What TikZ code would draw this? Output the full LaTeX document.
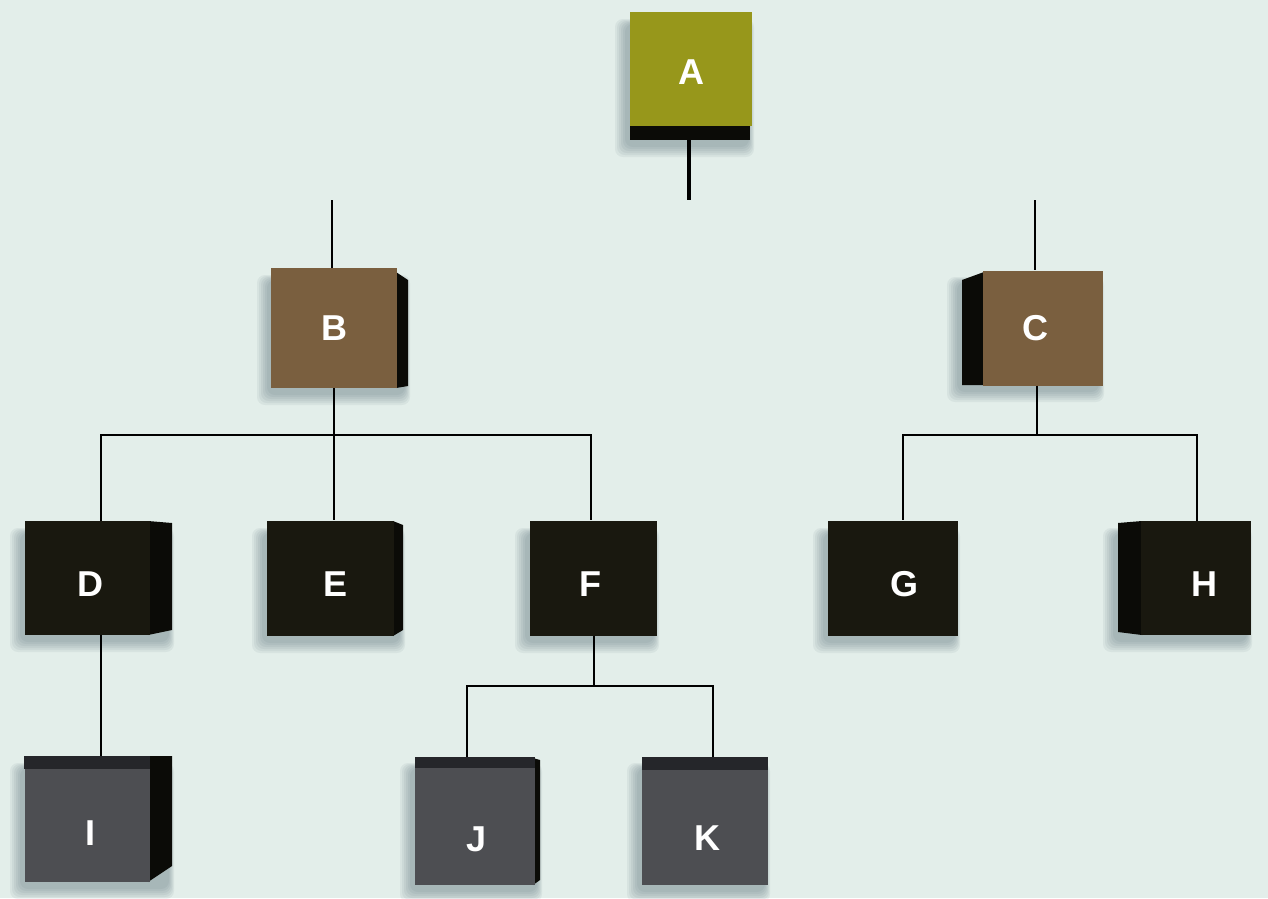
\documentclass[tikz,border=0pt]{standalone}
\usepackage{fontspec}
\setmainfont{Liberation Sans}
\definecolor{bgc}{HTML}{E3EEEA}
\definecolor{olivec}{HTML}{97971B}
\definecolor{brownc}{HTML}{7A5F3F}
\definecolor{blackc}{HTML}{19180F}
\definecolor{greyc}{HTML}{4D4E52}
\definecolor{sidec}{HTML}{0B0B07}
\definecolor{gtopc}{HTML}{25262A}
\definecolor{shadc}{HTML}{4F6570}
\newcommand\softshadow[4]{%
  \foreach \k in {0,...,5}{%
    \fill[shadc, opacity=0.08, rounded corners=8]
      ({#1-5-\k*2},{#2+12-\k}) rectangle ({#3-3+\k},{#4+7+\k*2});}}
\begin{document}
\begin{tikzpicture}[x=1pt,y=-1pt,
  face/.style={rectangle, inner sep=0pt, text=white,
    font=\fontsize{36}{40}\selectfont\bfseries},
  lbl/.style={text=white, inner sep=0pt,
    font=\fontsize{36}{40}\selectfont\bfseries},
  wire/.style={draw=black, line width=2.3pt},
  thick wire/.style={draw=black, line width=4pt}]
\fill[bgc] (0,0) rectangle (1268,898);
\useasboundingbox (0,0) rectangle (1268,898);

% ---------- shadows ----------
\softshadow{630}{12}{752}{140}
\softshadow{272}{268}{408}{388}
\softshadow{962}{270}{1102}{385}
\softshadow{25}{521}{172}{635}
\softshadow{267}{521}{403}{636}
\softshadow{530}{521}{657}{636}
\softshadow{828}{521}{958}{636}
\softshadow{1118}{521}{1250}{635}
\softshadow{25}{756}{172}{882}
\softshadow{415}{756}{540}{885}
\softshadow{642}{756}{768}{885}

% ---------- sides ----------
\fill[sidec] (630,124) rectangle (750,140);
\fill[sidec] (396,272) -- (408,280) -- (408,386) -- (396,388) -- cycle;
\fill[sidec] (984,272) -- (962,280) -- (962,385) -- (984,385) -- cycle;
\fill[sidec] (148,521) -- (172,523) -- (172,630) -- (148,635) -- cycle;
\fill[sidec] (393,521) -- (403,525) -- (403,630) -- (393,636) -- cycle;
\fill[sidec] (1142,521) -- (1118,523) -- (1118,632) -- (1142,635) -- cycle;
\fill[sidec] (148,756) -- (172,756) -- (172,866) -- (148,882) -- cycle;
\fill[sidec] (533,758) -- (540,760) -- (540,880) -- (533,885) -- cycle;

% ---------- boxes ----------
\node[face, fill=olivec, minimum width=122pt, minimum height=114pt] (A) at (691,69) {};
\node[face, fill=brownc, minimum width=126pt, minimum height=120pt] (B) at (334,328) {};
\node[face, fill=brownc, minimum width=120pt, minimum height=115pt] (C) at (1043,328) {};
\node[face, fill=blackc, minimum width=125pt, minimum height=114pt] (D) at (87,578) {};
\node[face, fill=blackc, minimum width=127pt, minimum height=115pt] (E) at (330,578) {};
\node[face, fill=blackc, minimum width=127pt, minimum height=115pt] (F) at (593,578) {};
\node[face, fill=blackc, minimum width=130pt, minimum height=115pt] (G) at (893,578) {};
\node[face, fill=blackc, minimum width=110pt, minimum height=114pt] (H) at (1196,578) {};
\node[face, fill=greyc, minimum width=125pt, minimum height=126pt] (I) at (87,819) {};
\node[face, fill=greyc, minimum width=120pt, minimum height=128pt] (J) at (475,821) {};
\node[face, fill=greyc, minimum width=126pt, minimum height=128pt] (K) at (705,821) {};

% dark top strips on the grey boxes
\fill[gtopc] (I.north west) rectangle ([yshift=-13]I.north east);
\fill[gtopc] (J.north west) rectangle ([yshift=-11]J.north east);
\fill[gtopc] (K.north west) rectangle ([yshift=-13]K.north east);

% ---------- labels ----------
\node[lbl] (lA) at ([yshift=-3]A.center) {A};
\node[lbl] (lB) at (B.center) {B};
\node[lbl] (lC) at ([xshift=-8]C.center) {C};
\node[lbl] (lD) at ([xshift=3,yshift=-6]D.center) {D};
\node[lbl] (lE) at ([xshift=6,yshift=-6]E.center) {E};
\node[lbl] (lF) at ([xshift=-3,yshift=-6]F.center) {F};
\node[lbl] (lG) at ([xshift=11,yshift=-6]G.center) {G};
\node[lbl] (lH) at ([xshift=8,yshift=-6]H.center) {H};
\node[lbl] (lI) at ([xshift=3,yshift=-14]I.center) {I};
\node[lbl] (lJ) at ([xshift=2,yshift=-18]J.center) {J};
\node[lbl] (lK) at ([xshift=2,yshift=-17]K.center) {K};

% ---------- connectors ----------
\coordinate (aEnd) at (689,200);
\coordinate (bTop) at (332,200);
\coordinate (cTop) at (1035,200);
\coordinate (bBar) at (334,435);
\coordinate (cBar) at (1037,435);
\coordinate (fBar) at (594,686);

\draw[thick wire] ([xshift=-2,yshift=-14]A.south) -- (aEnd);
\draw[wire] (bTop) -- (bTop |- B.north);
\draw[wire] (cTop) -- (cTop |- C.north);

\draw[wire] (B.south) -- (bBar);
\draw[wire] (bBar) -| ([xshift=14]D.north);
\draw[wire] (bBar) -| ([xshift=-2]F.north);
\draw[wire] (bBar) -- (bBar |- E.north);

\draw[wire] (cBar |- C.south) -- (cBar);
\draw[wire] (cBar) -| ([xshift=10]G.north);
\draw[wire] (cBar) -| ([xshift=1]H.north);

\draw[wire] ([xshift=14]D.south) -- ([xshift=14]I.north);

\draw[wire] (fBar |- F.south) -- (fBar);
\draw[wire] (fBar) -| ([xshift=-8]J.north);
\draw[wire] (fBar) -| ([xshift=8]K.north);
\end{tikzpicture}
\end{document}
